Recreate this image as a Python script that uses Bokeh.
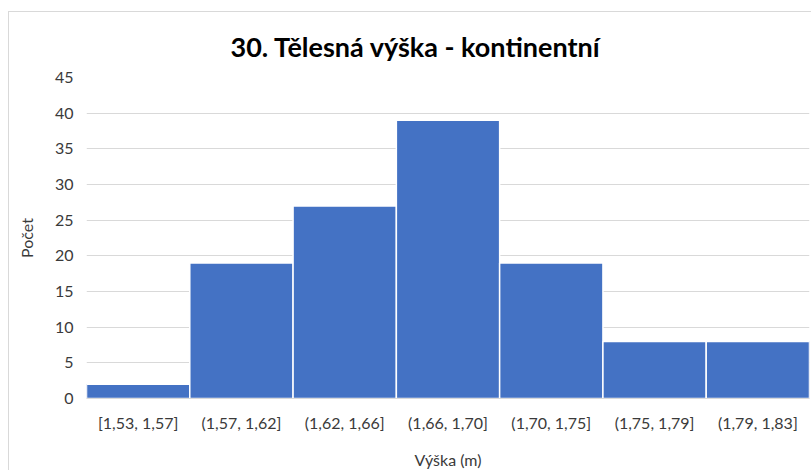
from bokeh.plotting import figure
from bokeh.models import FactorRange, Range1d, FixedTicker
from bokeh.embed import file_html
from bokeh.resources import INLINE

categories = ["[1,53, 1,57]", "(1,57, 1,62]", "(1,62, 1,66]", "(1,66, 1,70]",
              "(1,70, 1,75]", "(1,75, 1,79]", "(1,79, 1,83]"]
counts = [2, 19, 27, 39, 19, 8, 8]
y_ticks = [0, 5, 10, 15, 20, 25, 30, 35, 40, 45]

FONT = "Lato"
TXT = "#3a3a3a"

p = figure(x_range=FactorRange(*categories), y_range=Range1d(0, 45),
           width=803, height=459, output_backend="svg", toolbar_location=None,
           min_border_left=77, min_border_right=3, min_border_top=63,
           min_border_bottom=73)
p.styles = {"margin-left": "8px", "margin-top": "11px",
            "border-left": "1px solid #d9d9d9", "border-top": "1px solid #d9d9d9"}

p.vbar(x=categories, top=counts, width=1.0, fill_color="#4472C4",
       line_color="white", line_width=1.5)

p.title.text = "30. Tělesná výška - kontinentní"
p.title.align = "left"
p.title.offset = 144
p.title.text_font = FONT
p.title.text_font_style = "bold"
p.title.text_font_size = "27px"
p.title.text_color = "#000000"
p.title.standoff = 30

p.outline_line_color = None
p.xgrid.grid_line_color = None
p.ygrid.grid_line_color = "#d9d9d9"
p.ygrid.grid_line_width = 1

p.yaxis.ticker = FixedTicker(ticks=y_ticks)
p.yaxis.axis_line_color = None
p.yaxis.major_tick_line_color = None
p.yaxis.minor_tick_line_color = None
p.yaxis.major_tick_out = 0
p.yaxis.major_label_standoff = 13
p.yaxis.axis_label = "Počet"
p.yaxis.axis_label_standoff = 16

p.xaxis.axis_line_color = "#d9d9d9"
p.xaxis.major_tick_line_color = None
p.xaxis.minor_tick_line_color = None
p.xaxis.major_tick_out = 0
p.xaxis.major_label_standoff = 14
p.xaxis.axis_label = "Výška (m)"
p.xaxis.axis_label_standoff = 15

for ax in (p.xaxis[0], p.yaxis[0]):
    ax.major_label_text_font = FONT
    ax.major_label_text_font_size = "16px"
    ax.major_label_text_color = TXT
    ax.axis_label_text_font = FONT
    ax.axis_label_text_font_size = "16px"
    ax.axis_label_text_font_style = "normal"
    ax.axis_label_text_color = TXT

open("out.html", "w").write(file_html(p, INLINE))
